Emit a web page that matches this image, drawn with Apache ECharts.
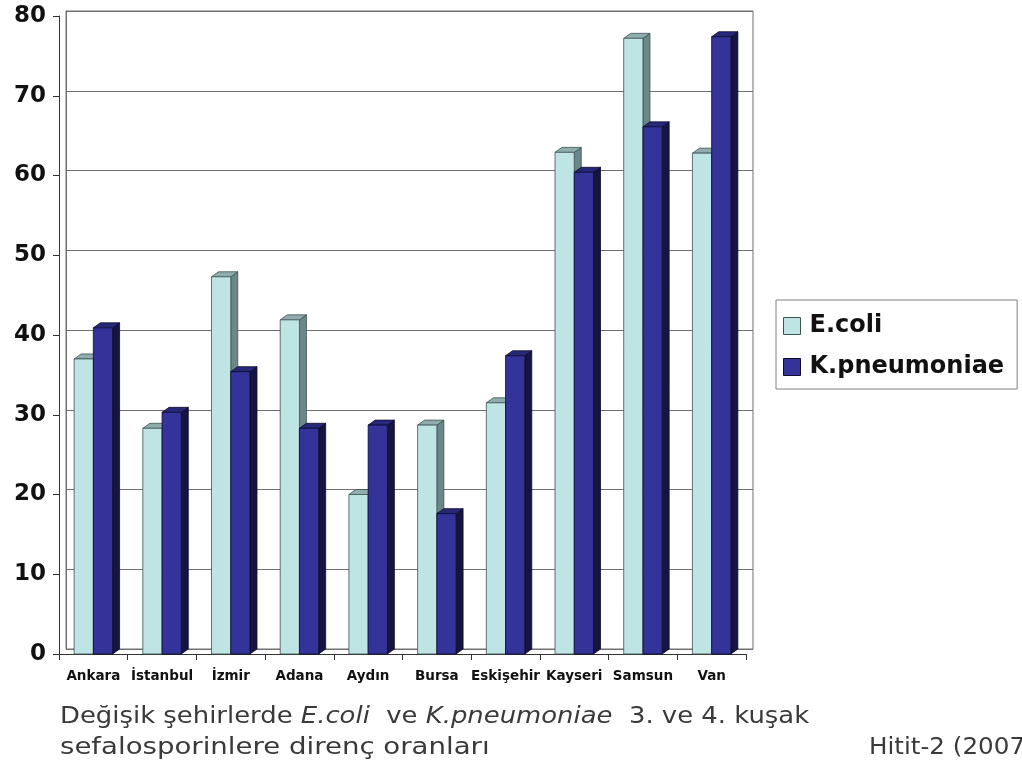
<!DOCTYPE html>
<html>
<head>
<meta charset="utf-8">
<script src="https://cdn.jsdelivr.net/npm/echarts@6/dist/echarts.min.js"></script>
<style>
  html, body { margin: 0; padding: 0; background: #ffffff; }
  #chart { width: 1022px; height: 771px; }
</style>
</head>
<body>
<div id="chart"></div>
<script>
// Resistance rates (%) to 3rd/4th generation cephalosporins by city
const cities = ['Ankara', 'İstanbul', 'İzmir', 'Adana', 'Aydın', 'Bursa', 'Eskişehir', 'Kayseri', 'Samsun', 'Van'];
const ecoliValues = [37.0, 28.3, 47.3, 41.9, 20.0, 28.7, 31.5, 62.9, 77.2, 62.8];
const kpneuValues = [40.9, 30.3, 35.4, 28.3, 28.7, 17.6, 37.4, 60.4, 66.1, 77.4];
const seriesNames = ['E.coli', 'K.pneumoniae'];
const yMin = 0, yMax = 80, yStep = 10;

// pseudo-3D depth offset of the back wall and bar tops/sides
const DX = 7, DY = -5;

const ECOLI_PAL = { front: '#bfe4e4', top: '#90adad', side: '#6b8787', stroke: '#3e5252' };
const KPNEU_PAL = { front: '#333399', top: '#28287a', side: '#15153f', stroke: '#0b0b2c' };

const FONT = 'DejaVu Sans';

function barRenderer(slot, pal) {
  return function (params, api) {
    const i = api.value(0);
    const v = api.value(1);
    const catW = api.size([1, 0])[0];
    const bw = catW * 0.28;
    const c = api.coord([i, v]);
    const b = api.coord([i, 0]);
    const x0 = c[0] - bw + slot * bw;
    const x1 = x0 + bw;
    const yt = c[1];
    const yb = b[1];
    const lw = 0.8;
    return {
      type: 'group',
      children: [
        { type: 'polygon',
          shape: { points: [[x1, yt], [x1 + DX, yt + DY], [x1 + DX, yb + DY], [x1, yb]] },
          style: { fill: pal.side, stroke: pal.stroke, lineWidth: lw } },
        { type: 'polygon',
          shape: { points: [[x0, yt], [x1, yt], [x1 + DX, yt + DY], [x0 + DX, yt + DY]] },
          style: { fill: pal.top, stroke: pal.stroke, lineWidth: lw } },
        { type: 'rect',
          shape: { x: x0, y: yt, width: bw, height: yb - yt },
          style: { fill: pal.front, stroke: pal.stroke, lineWidth: lw } }
      ]
    };
  };
}

const chart = echarts.init(document.getElementById('chart'), null, { renderer: 'canvas' });

const captionStyle = { fontFamily: FONT, fontSize: 23, fill: '#3a3a3a', color: '#3a3a3a' };

const option = {
  backgroundColor: '#ffffff',
  animation: false,
  grid: [
    // front plane: axes and bars
    { left: 59, right: 276, top: 16, bottom: 117 },
    // back wall: gridlines and frame
    { left: 59 + DX, right: 276 - DX, top: 16 + DY, bottom: 117 - DY,
      show: true, borderColor: '#707070', borderWidth: 1, backgroundColor: 'transparent' }
  ],
  xAxis: [
    { type: 'category', gridIndex: 0, data: cities, boundaryGap: true,
      axisLine: { show: true, lineStyle: { color: '#333333', width: 1 } },
      axisTick: { show: true, length: 6, lineStyle: { color: '#333333' } },
      axisLabel: { interval: 0, margin: 15, fontFamily: FONT, fontWeight: 'bold',
                   fontSize: 13.5, color: '#111111' },
      splitLine: { show: false } },
    { type: 'category', gridIndex: 1, data: cities, show: false }
  ],
  yAxis: [
    { type: 'value', gridIndex: 0, min: yMin, max: yMax, interval: yStep,
      axisLine: { show: true, lineStyle: { color: '#333333', width: 1 } },
      axisTick: { show: true, length: 6, lineStyle: { color: '#333333' } },
      axisLabel: { margin: 13, fontFamily: FONT, fontWeight: 'bold', fontSize: 23, color: '#111111' },
      splitLine: { show: false } },
    { type: 'value', gridIndex: 1, min: yMin, max: yMax, interval: yStep,
      axisLine: { show: true, lineStyle: { color: '#707070', width: 1 } },
      axisTick: { show: false },
      axisLabel: { show: false },
      splitLine: { show: true, lineStyle: { color: '#707070', width: 1.2 } } }
  ],
  legend: {
    orient: 'vertical',
    left: 776,
    top: 300,
    padding: [14, 13, 10, 7],
    itemGap: 17,
    itemWidth: 17,
    itemHeight: 17,
    borderColor: '#808080',
    borderWidth: 1,
    textStyle: { fontFamily: FONT, fontWeight: 'bold', fontSize: 24, color: '#111111', padding: [0, 0, 0, 4] },
    data: [
      { name: seriesNames[0], icon: 'rect',
        itemStyle: { color: ECOLI_PAL.front, borderColor: '#3e5252', borderWidth: 1 } },
      { name: seriesNames[1], icon: 'rect',
        itemStyle: { color: KPNEU_PAL.front, borderColor: '#0b0b2c', borderWidth: 1 } }
    ]
  },
  series: [
    { name: seriesNames[0], type: 'custom', xAxisIndex: 0, yAxisIndex: 0,
      renderItem: barRenderer(0, ECOLI_PAL), encode: { x: 0, y: 1 },
      itemStyle: { color: ECOLI_PAL.front },
      data: ecoliValues.map((v, i) => [i, v]) },
    { name: seriesNames[1], type: 'custom', xAxisIndex: 0, yAxisIndex: 0,
      renderItem: barRenderer(1, KPNEU_PAL), encode: { x: 0, y: 1 },
      itemStyle: { color: KPNEU_PAL.front },
      data: kpneuValues.map((v, i) => [i, v]) }
  ],
  graphic: [
    { type: 'text', x: 60, y: 717, scaleX: 1.125,
      style: {
        text: '{n|Değişik şehirlerde }{i|E.coli}{n|  ve }{i|K.pneumoniae}{n|  3. ve 4. kuşak}',
        verticalAlign: 'middle',
        rich: {
          n: captionStyle,
          i: Object.assign({}, captionStyle, { fontStyle: 'italic' })
        }
      } },
    { type: 'text', x: 60, y: 748, scaleX: 1.2,
      style: Object.assign({ text: 'sefalosporinlere direnç oranları', verticalAlign: 'middle' }, captionStyle) },
    { type: 'text', x: 869, y: 748, scaleX: 1.07,
      style: Object.assign({ text: 'Hitit-2 (2007)', verticalAlign: 'middle' }, captionStyle) }
  ]
};

chart.setOption(option);
</script>
</body>
</html>
